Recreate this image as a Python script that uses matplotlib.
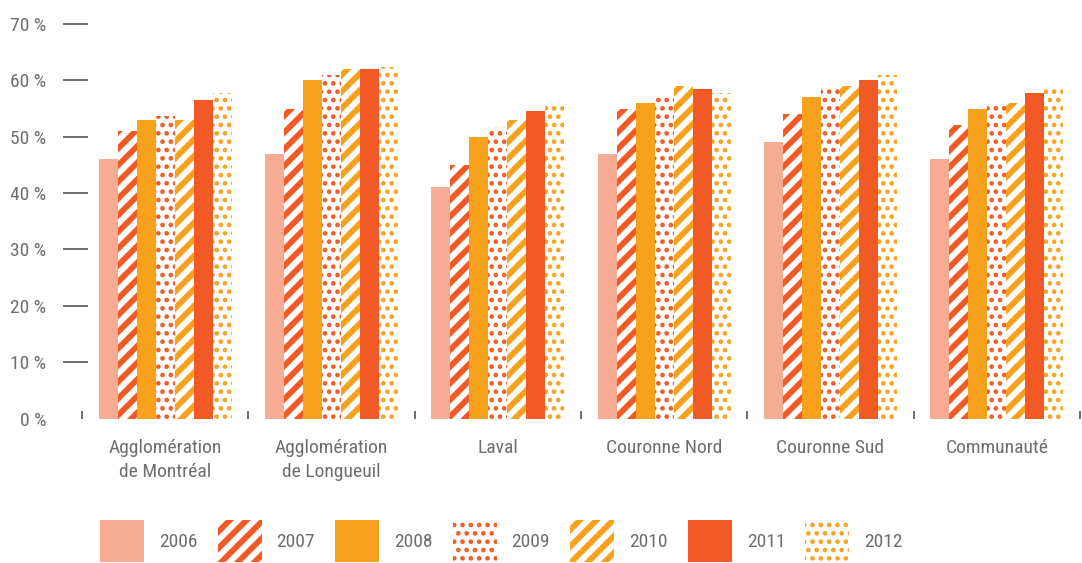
import matplotlib
matplotlib.use("Agg")
import numpy as np
import matplotlib.pyplot as plt
from matplotlib import font_manager
from matplotlib.patches import Rectangle

# =============================================================================
# DATA
# =============================================================================

regions = ["Agglomération\nde Montréal", "Agglomération\nde Longueuil", "Laval",
           "Couronne Nord", "Couronne Sud", "Communauté"]
years = ["2006", "2007", "2008", "2009", "2010", "2011", "2012"]

v2006 = [46, 47, 41, 47, 49, 46]
v2007 = [51, 55, 45, 55, 54, 52]
v2008 = [53, 60, 50, 56, 57, 55]
v2009 = [53.7, 61, 51.8, 57, 59, 56]
v2010 = [53, 62, 53, 59, 59, 56]
v2011 = [56.5, 62, 54.5, 58.5, 60, 57.7]
v2012 = [57.8, 62.4, 56.1, 57.7, 61, 58.4]
series = [v2006, v2007, v2008, v2009, v2010, v2011, v2012]

yticks = [0, 10, 20, 30, 40, 50, 60, 70]
ytick_labels = ["0 %", "10 %", "20 %", "30 %", "40 %", "50 %", "60 %", "70 %"]

# =============================================================================
# STYLE
# =============================================================================

SALMON = "#F7AB93"
RED = "#F15A24"
ORANGE = "#F7A11C"
GRAY = "#6D6E71"

# (colour, hatch, hatch linewidth) per year; hatch None = solid bar
styles = [
    (SALMON, None, 0),
    (RED, "//", 4.2),
    (ORANGE, None, 0),
    (RED, "..", 2.1),
    (ORANGE, "//", 4.2),
    (RED, None, 0),
    (ORANGE, "..", 2.1),
]

installed = {f.name for f in font_manager.fontManager.ttflist}
if "Liberation Sans Narrow" in installed:
    FAMILY, FS = "Liberation Sans Narrow", 14
elif "Roboto Condensed" in installed:
    FAMILY, FS = "Roboto Condensed", 14
else:
    FAMILY, FS = "Roboto", 12.5
plt.rcParams["font.family"] = [FAMILY, "DejaVu Sans"]
plt.rcParams["font.size"] = FS


def style_kwargs(color, hatch):
    if hatch is None:
        return dict(color=color, linewidth=0)
    return dict(facecolor="white", edgecolor=color, hatch=hatch, linewidth=0)


# =============================================================================
# PLOT
# =============================================================================

W, H = 1082, 563
fig = plt.figure(figsize=(W / 100, H / 100), dpi=100)

ax_left, ax_right = 63 / W, 1082 / W
ax_bottom, ax_top = (H - 418.5) / H, (H - 24) / H
ax = fig.add_axes([ax_left, ax_bottom, ax_right - ax_left, ax_top - ax_bottom])

x = np.arange(len(regions))
bw = 0.1142
for k, (vals, (color, hatch, hlw)) in enumerate(zip(series, styles)):
    bars = ax.bar(x + (k - 3) * bw, vals, bw, **style_kwargs(color, hatch))
    if hatch is not None:
        for b in bars:
            b.set_hatch_linewidth(hlw)

px_per_unit = (1080 - 82) / 6
ax.set_xlim(-0.5 - 19 / px_per_unit, 5.5 + 2 / px_per_unit)
ax.set_ylim(0, 70)

for s in ax.spines.values():
    s.set_visible(False)

ax.set_yticks(yticks)
ax.set_yticklabels(ytick_labels)
ax.tick_params(axis="y", direction="in", length=18, width=1.4, color=GRAY,
               labelcolor=GRAY, pad=12)
ax.yaxis.get_major_ticks()[0].tick1line.set_visible(False)

ax.set_xticks(x)
ax.set_xticklabels(regions, linespacing=1.38)
ax.set_xticks(np.arange(-0.5, 6.0, 1.0), minor=True)
ax.tick_params(axis="x", which="major", length=0, labelcolor=GRAY, pad=15)
ax.tick_params(axis="x", which="minor", direction="in", length=6, width=1.4, color=GRAY)

# legend
handles = [Rectangle((0, 0), 1, 1, **style_kwargs(c, h)) for c, h, _ in styles]

fs_px = FS * 100 / 72
leg = fig.legend(handles, years, ncol=7, frameon=False,
                 loc="center left", bbox_to_anchor=(100 / W, (H - 541) / H),
                 borderpad=0, borderaxespad=0,
                 handlelength=44 / fs_px, handleheight=44 / 0.75 / fs_px,
                 handletextpad=15 / fs_px, columnspacing=20 / fs_px,
                 labelcolor=GRAY, fontsize=FS)
for p, (c, h, hlw) in zip(leg.get_patches(), styles):
    if h is not None:
        p.set_hatch_linewidth(hlw)

fig.savefig("out.png", dpi=100)
